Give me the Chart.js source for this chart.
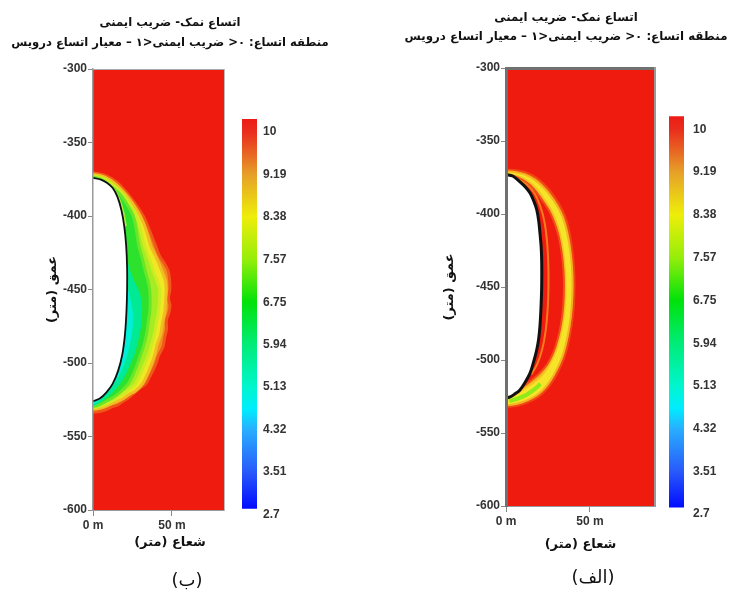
<!DOCTYPE html>
<html><head><meta charset="utf-8">
<script src="https://cdn.jsdelivr.net/npm/chart.js@4.4.1/dist/chart.umd.min.js"></script>
<style>
html,body{margin:0;padding:0;background:#fff;}
body{width:734px;height:592px;position:relative;overflow:hidden;}
canvas{position:absolute;display:block;}
</style></head><body>
<canvas id="mainB" width="340" height="592" style="left:0;top:0"></canvas>
<canvas id="mainA" width="332" height="592" style="left:400px;top:0"></canvas>
<canvas id="barB" width="226" height="492" style="left:74px;top:100px"></canvas>
<canvas id="barA" width="254" height="492" style="left:466px;top:100px"></canvas>
<script>
// ---------- texts ----------
const titleLines = ['اتساع نمک- ضریب ایمنی', 'منطقه اتساع: ۰< ضریب ایمنی<۱ – معیار اتساع درویس'];
const xAxisTitle = 'شعاع (متر)';
const yAxisTitle = 'عمق (متر)';
const panelLabels = ['(ب)', '(الف)'];

// ---------- axes ----------
const depthRange = [-600, -300];
const depthStep = 50;
const radiusTicks = [0, 50];
const radiusMaxB = 83;
const radiusMaxA = 88.7;

// ---------- colour bar ----------
const colorbarTicks = [10, 9.19, 8.38, 7.57, 6.75, 5.94, 5.13, 4.32, 3.51, 2.7];
const colorbarAxisRange = [2.7, 10.25];
const colorbarStopValues = [10.25, 10, 9.6, 9.19, 8.38, 7.57, 6.75, 5.94, 5.13, 4.7, 4.32, 3.51, 2.8];
const colorbarStopColors = ['rgb(236,28,22)','rgb(234,45,28)','rgb(232,100,35)','rgb(230,160,40)','rgb(238,238,10)','rgb(150,238,10)','rgb(0,226,10)','rgb(0,236,120)','rgb(0,246,205)','rgb(0,236,255)','rgb(40,175,255)','rgb(40,90,250)','rgb(0,10,255)'];
const colorbarRangeB = [2.81, 10.25];
const colorbarRangeA = [2.83, 10.25];

// ---------- panel (ب): contours [radius m, depth m] ----------
const cavernB = [[0,-374],[5,-375.2],[9,-377.5],[12.5,-381],[15.5,-387],[18,-396],[19.8,-407],[21,-420],[21.6,-435],[21.6,-450],[21.2,-465],[20.3,-480],[18.6,-494],[16,-505],[12.5,-514],[8.5,-520],[4.5,-524],[0,-526]];
const outerB = [[0,-370.5],[8,-372.5],[15,-377],[22,-385],[27,-392],[31.8,-400],[35.5,-409],[39.5,-420],[42,-427],[45,-432],[47.5,-437],[48.5,-443],[48.7,-450],[47.8,-456],[48.8,-461],[48,-466],[46.5,-471],[46.6,-477],[45.5,-482],[44.3,-489],[41.5,-495],[40,-500],[38,-505],[35.5,-510],[33.5,-514],[29.7,-517],[25.5,-521],[22,-524],[19,-526],[15.5,-528.5],[12.5,-529.5],[8.9,-531.5],[4,-533],[0,-533.5]];
const yellowB = [[0,-371.5],[7.5,-373.5],[14,-378],[20.5,-385],[25.5,-392],[30,-400],[33.5,-409],[36.5,-420],[40,-428],[43.5,-437],[45.8,-444],[46.4,-450],[46,-458],[45.5,-465],[44,-473],[43,-480],[40.5,-488],[39,-495],[35.5,-505],[31.5,-514],[27,-519],[23.5,-521],[19.5,-524],[16,-526],[12.5,-527.5],[9,-529],[3.5,-531],[0,-531.5]];
const yellowGreenB = [[0,-372.5],[7,-374.5],[13,-379],[19,-385],[23.5,-392],[27.5,-400],[30,-409],[32.5,-420],[35.5,-429],[38,-437],[40.5,-444],[42.2,-450],[42,-458],[41.5,-465],[40.3,-472],[39,-480],[37,-488],[35,-495],[31,-505],[27,-514],[23,-518],[19,-521],[15.5,-523.5],[12,-526],[6,-529],[0,-530.5]];
const greenB = [[0,-373.5],[6,-375.5],[11.5,-380],[17,-385],[21.5,-392],[25.5,-400],[27.5,-410],[29,-420],[31,-428],[33,-437],[34.8,-444],[35.9,-450],[36.2,-458],[36,-465],[35,-472],[34,-480],[32.2,-488],[30,-495],[26.5,-505],[22.5,-514],[19,-518],[16,-521],[12,-524],[8.5,-526],[3,-529],[0,-529.5]];
const aquaB = [[21.3,-428],[23.5,-437],[26.5,-445],[29.5,-452],[31,-460],[31,-468],[30.3,-476],[28.8,-484],[27,-492],[24,-500],[20.7,-508],[17.3,-514],[13.5,-519],[9.5,-523],[5.5,-526],[0,-528.5],[0,-450],[15,-428]];
const cyanB = [[21.6,-448],[23.5,-456],[25,-464],[25.3,-472],[24.5,-481],[22.8,-490],[20,-500],[16.3,-509],[12,-516],[8,-521],[4,-525],[0,-527.5],[0,-470],[18,-448]];
const rimB = [[3,-375.5],[9,-378.5],[13.5,-383],[16.8,-390],[19,-398],[20.5,-407]];

// ---------- panel (الف): contours [radius m, depth m] ----------
const cavernA = [[0,-373],[4,-374],[8.3,-378],[11.5,-381.5],[14.3,-385.6],[16.5,-391],[18.3,-397],[19.5,-405],[20.2,-413],[20.9,-422],[21.2,-430],[21.3,-440],[21.2,-452],[20.8,-465],[20.2,-477],[19.4,-486],[18.3,-493],[16.5,-501],[14.3,-509],[11.5,-515],[8.3,-520.5],[5,-523.5],[2.5,-525.3],[0,-526]];
const outerA = [[0,-369.5],[6,-370],[12,-371.5],[18,-375],[23,-380],[27.5,-386],[31.5,-393],[35,-401],[37.5,-411],[39.3,-423],[40.5,-437],[40.8,-450],[40.3,-464],[39,-477],[37,-489],[34.5,-499],[31,-508],[27.5,-515],[23.5,-521],[19,-525.5],[13,-529],[7,-531.3],[0,-532.3]];
const yellowOutA = [[0,-370.7],[6,-371.4],[11.5,-373],[17,-376.5],[21.7,-381.2],[26.3,-387.2],[30.3,-394.2],[33.8,-402.3],[36.3,-412.3],[38.1,-423.7],[39.3,-437],[39.6,-450],[39.1,-463.5],[37.8,-476.7],[35.8,-488.3],[33.5,-497.8],[30.1,-506.6],[26.6,-513.8],[22.6,-519.8],[18,-524.3],[12.2,-527.8],[6,-530.1],[0,-531.1]];
const yellowInA = [[0,-372.7],[5.3,-373.6],[10.2,-375.6],[14.6,-378.8],[18.5,-383.4],[22.4,-389.4],[26.4,-396.4],[29.6,-404.3],[32.2,-414.2],[33.9,-425.2],[35.1,-438.2],[35.4,-450],[35,-462.8],[33.7,-475.3],[31.6,-486.6],[28.9,-496],[25.4,-503.9],[21.4,-510.4],[16,-515.8],[10.6,-519.9],[5.7,-523.3],[1.8,-525.7],[0,-526.3]];
const redInA = [[0,-373.2],[5,-374.2],[9.5,-376.5],[14,-380],[17.7,-384.5],[21.5,-390.5],[25.5,-397.5],[28.7,-405.5],[31.3,-415],[33,-425.5],[34.2,-438.5],[34.5,-450],[34.1,-462.5],[32.8,-475],[30.7,-486],[28,-495.5],[24.5,-503],[20,-509],[15.5,-513.5],[11,-517.5],[6.5,-521.5],[2.5,-524.5],[0,-525.5]];
const greenA = [[2,-528],[7,-526.5],[12,-524],[16.5,-520.5],[20.5,-516.5]];
const orangeLineA = [[6,-375.5],[12,-379.5],[17,-386],[20.5,-395],[23,-406],[24.5,-420],[25.2,-435],[25.3,-450],[24.8,-465],[23.6,-480],[21.5,-493],[18.5,-503],[15,-510]];

// ---------- helpers ----------
const FIELD_RED = 'rgb(238,27,14)';
const NUM_FONT = "'Liberation Sans', Arial, sans-serif";
const AR_FONT = "'DejaVu Sans', sans-serif";
function rtl(s){ return '\u200F' + s + '\u200F'; }
const pts = a => a.map(p => ({x:p[0], y:p[1]}));

function layerSet(layers){
  return layers.map(l => ({
    data: pts(l.pts),
    fill: l.fill ? 'shape' : false,
    backgroundColor: l.fill || 'rgba(0,0,0,0)',
    borderColor: l.line || 'rgba(0,0,0,0)',
    borderWidth: l.width || 0,
    pointRadius: 0,
    tension: l.tension === undefined ? 0.35 : l.tension,
    xAxisID: 'x', yAxisID: 'y'
  })).reverse(); // first dataset is drawn on top
}

function depthTickList(){ const t=[]; for(let v=depthRange[1]; v>=depthRange[0]; v-=depthStep) t.push({value:v}); return t; }

const hidden = {display:false, drawTicks:false};

function mainChart(id, o){
  const axisTitleFont = {family:AR_FONT, size:13, weight:'bold', lineHeight:1.2};
  return new Chart(document.getElementById(id), {
    type: 'line',
    data: { datasets: layerSet(o.layers) },
    options: {
      responsive:false, animation:false, devicePixelRatio:1, events:[],
      layout:{padding:0},
      plugins:{
        legend:{display:false}, tooltip:{enabled:false},
        title:{display:true, text:titleLines.map(rtl), color:'#111',
          font:{family:AR_FONT, size:o.titleSize, weight:'bold', lineHeight:o.titleLH},
          padding:{top:o.titlePadTop, bottom:o.titlePadBottom}},
        subtitle:{display:o.xTitleAsSubtitle, position:'bottom', text:rtl(xAxisTitle), color:'#111',
          font:axisTitleFont, padding:{top:0, bottom:o.xTitlePad}}
      },
      scales:{
        x:{type:'linear', position:'bottom', min:0, max:o.xMax,
          afterBuildTicks:s=>{s.ticks = radiusTicks.map(v=>({value:v}));},
          afterFit:s=>{s.height = o.xAxisH;},
          ticks:{callback:v=>v+' m', color:'#333', padding:2, maxRotation:0, font:{family:NUM_FONT, size:12, weight:'bold'}},
          grid:{drawOnChartArea:false, drawTicks:true, tickLength:6, color:'#888'},
          border:{display:true, color:o.bottomBorder, width:1, z:1},
          title:{display:!o.xTitleAsSubtitle, text:rtl(xAxisTitle), color:'#111', font:axisTitleFont, padding:{top:0, bottom:o.xTitlePad}}
        },
        y:{type:'linear', position:'left', min:depthRange[0], max:depthRange[1],
          afterBuildTicks:s=>{s.ticks = depthTickList();},
          afterFit:s=>{s.width = o.yAxisW;},
          ticks:{color:'#333', padding:1, font:{family:NUM_FONT, size:12, weight:'bold'}},
          grid:{drawOnChartArea:false, drawTicks:true, tickLength:5, color:'#888'},
          border:{display:true, color:o.leftBorder, width:o.leftBorderW, z:1},
          title:{display:true, text:rtl(yAxisTitle), color:'#111', font:axisTitleFont, padding:{top:o.yTitlePad, bottom:0}}
        },
        x2:{type:'linear', position:'top', min:0, max:o.xMax, afterFit:s=>{s.height=0;},
          ticks:{display:false}, grid:hidden,
          border:{display:true, color:o.topBorder, width:o.topBorderW, z:1}},
        y2:{type:'linear', position:'right', min:depthRange[0], max:depthRange[1], afterFit:s=>{s.width=o.y2W;},
          ticks:{display:false}, grid:hidden,
          border:{display:true, color:o.rightBorder, width:o.rightBorderW, z:1}}
      }
    }
  });
}

function cbGradient(c){
  const chart = c.chart; if(!chart.chartArea) return null;
  const ys = chart.scales.y;
  const n = colorbarStopValues.length;
  const p0 = ys.getPixelForValue(colorbarStopValues[0]), p1 = ys.getPixelForValue(colorbarStopValues[n-1]);
  const g = chart.ctx.createLinearGradient(0,p0,0,p1);
  colorbarStopValues.forEach((v,i)=>{ g.addColorStop(Math.min(1,Math.max(0,(ys.getPixelForValue(v)-p0)/(p1-p0))), colorbarStopColors[i]); });
  return g;
}

// colour bar chart; it also carries the panel label (centred under the panel)
function colorbar(id, range, label, o){
  return new Chart(document.getElementById(id), {
    type:'bar',
    data:{labels:[''], datasets:[{data:[range], xAxisID:'x', yAxisID:'y', backgroundColor:cbGradient, borderWidth:0, barPercentage:1, categoryPercentage:1}]},
    options:{
      responsive:false, animation:false, devicePixelRatio:1, events:[],
      layout:{padding:{top:o.padTop, bottom:0, left:0, right:0}},
      plugins:{legend:{display:false}, tooltip:{enabled:false},
        subtitle:{display:true, position:'bottom', text:rtl(label), color:'#111',
          font:{family:AR_FONT, size:18, weight:'normal', lineHeight:1.2}, padding:{top:0, bottom:o.labelPad}}},
      scales:{
        x:{type:'category', display:true, afterFit:s=>{s.height=o.gapBelow;}, ticks:{display:false}, grid:hidden, border:{display:false}},
        y:{type:'linear', position:'right', min:colorbarAxisRange[0], max:colorbarAxisRange[1],
          afterBuildTicks:s=>{s.ticks = colorbarTicks.map(v=>({value:v}));},
          afterFit:s=>{s.width = o.axisW;},
          ticks:{callback:v=>String(v), color:'#333', padding:o.tickPad, font:{family:NUM_FONT, size:12, weight:'bold'}},
          grid:hidden, border:{display:false}},
        yLeft:{type:'linear', position:'left', display:true, min:colorbarAxisRange[0], max:colorbarAxisRange[1],
          afterFit:s=>{s.width=o.gapLeft;}, ticks:{display:false}, grid:hidden, border:{display:false}}
      }
    }
  });
}

// ---------- panel (ب) ----------
mainChart('mainB', {
  xMax: radiusMaxB, titleSize: 11.6, titleLH: 20/11.6, titlePadTop: 13, titlePadBottom: 16,
  xTitleAsSubtitle: true, xTitlePad: 41.2, xAxisH: 25.2,
  yAxisW: 93, yTitlePad: 45, y2W: 116,
  bottomBorder:'#999', leftBorder:'#999', leftBorderW:1.5, topBorder:'#aaa', topBorderW:1, rightBorder:'#bbb', rightBorderW:1,
  layers: [
    {pts:[[0,depthRange[1]],[radiusMaxB,depthRange[1]],[radiusMaxB,depthRange[0]],[0,depthRange[0]]], fill:FIELD_RED, tension:0},
    {pts:outerB, fill:'rgb(242,140,35)', line:'rgb(240,88,25)', width:3},
    {pts:yellowB, fill:'rgb(240,232,35)', line:'rgb(242,188,35)', width:3},
    {pts:yellowGreenB, fill:'rgb(165,236,35)', line:'rgb(205,236,35)', width:3},
    {pts:greenB, fill:'rgb(45,226,45)', line:'rgb(105,230,40)', width:3},
    {pts:aquaB, fill:'rgb(0,234,150)'},
    {pts:cyanB, fill:'rgb(0,240,215)'},
    {pts:rimB, line:'rgba(190,240,60,0.9)', width:3},
    {pts:cavernB, fill:'#ffffff', line:'#111', width:1.8}
  ]
});
colorbar('barB', colorbarRangeB, panelLabels[0], {padTop:19, gapBelow:56.2, gapLeft:168, axisW:43, tickPad:6, labelPad:0});

// ---------- panel (الف) ----------
mainChart('mainA', {
  xMax: radiusMaxA, titleSize: 11.8, titleLH: 19/11.8, titlePadTop: 8.5, titlePadBottom: 21.5,
  xTitleAsSubtitle: false, xTitlePad: 39.2, xAxisH: 86,
  yAxisW: 106, yTitlePad: 42, y2W: 77,
  bottomBorder:'#999', leftBorder:'#707070', leftBorderW:3, topBorder:'#707070', topBorderW:3, rightBorder:'#999', rightBorderW:2,
  layers: [
    {pts:[[0,depthRange[1]],[radiusMaxA,depthRange[1]],[radiusMaxA,depthRange[0]],[0,depthRange[0]]], fill:FIELD_RED, tension:0},
    {pts:outerA, fill:'rgb(244,110,25)', line:'rgb(240,70,20)', width:2},
    {pts:yellowOutA, fill:'rgb(245,228,40)', line:'rgb(245,180,35)', width:2},
    {pts:yellowInA, fill:'rgb(246,160,30)', line:'rgb(245,195,35)', width:2},
    {pts:redInA, fill:FIELD_RED, line:'rgb(240,80,22)', width:2},
    {pts:greenA, line:'rgba(130,235,25,0.9)', width:4},
    {pts:orangeLineA, line:'rgba(247,140,30,0.85)', width:2},
    {pts:cavernA, fill:'#ffffff', line:'#111', width:3}
  ]
});
colorbar('barA', colorbarRangeA, panelLabels[1], {padTop:16, gapBelow:53.2, gapLeft:203, axisW:36, tickPad:9, labelPad:3.2});
</script>
</body></html>
